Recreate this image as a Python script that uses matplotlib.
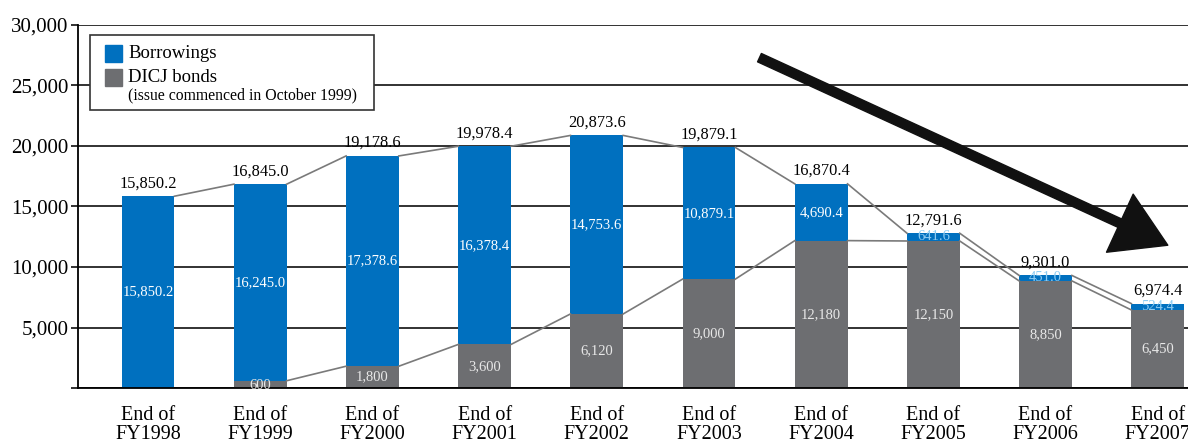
import matplotlib.pyplot as plt
import numpy as np
from matplotlib.patches import Rectangle, FancyArrowPatch

years = ['FY1998', 'FY1999', 'FY2000', 'FY2001', 'FY2002',
         'FY2003', 'FY2004', 'FY2005', 'FY2006', 'FY2007']
borrowings = [15850.2, 16245.0, 17378.6, 16378.4, 14753.6,
              10879.1, 4690.4, 641.6, 451.0, 524.4]
bonds = [0, 600, 1800, 3600, 6120, 9000, 12180, 12150, 8850, 6450]
totals = ['15,850.2', '16,845.0', '19,178.6', '19,978.4', '20,873.6',
          '19,879.1', '16,870.4', '12,791.6', '9,301.0', '6,974.4']
borrow_txt = ['15,850.2', '16,245.0', '17,378.6', '16,378.4', '14,753.6',
              '10,879.1', '4,690.4', '641.6', '451.0', '524.4']
bond_txt = ['', '600', '1,800', '3,600', '6,120', '9,000',
            '12,180', '12,150', '8,850', '6,450']

blue = '#0070BF'
grey = '#6D6E71'
plt.rcParams['font.family'] = ['Liberation Serif', 'DejaVu Serif']

W, H = 1188, 442
fig = plt.figure(figsize=(W / 100, H / 100), dpi=100)
ax = fig.add_axes([78 / W, 54 / H, 1 - 78 / W, (388 - 25) / H])

x = np.arange(len(years))
w = 0.47
bonds = np.array(bonds, dtype=float)
borrowings = np.array(borrowings)
top = bonds + borrowings

ax.set_axisbelow(True)
ax.yaxis.grid(True, color='#222222', linewidth=1.3)
ax.bar(x, bonds, w, color=grey, zorder=2)
ax.bar(x, borrowings, w, bottom=bonds, color=blue, zorder=2)

# connector lines between bar tops
for i in range(len(x) - 1):
    ax.plot([x[i] + w / 2, x[i + 1] - w / 2], [top[i], top[i + 1]],
            color='#7a7a7a', lw=1.2, zorder=3)
    if bonds[i] > 0:
        ax.plot([x[i] + w / 2, x[i + 1] - w / 2], [bonds[i], bonds[i + 1]],
                color='#7a7a7a', lw=1.2, zorder=3)

for i in range(len(x)):
    ax.text(x[i], top[i] + 400, totals[i], ha='center', va='bottom',
            fontsize=11.8, color='black')
    big = borrowings[i] > 1000
    ax.text(x[i], bonds[i] + borrowings[i] / 2 + (0 if big else 20), borrow_txt[i],
            ha='center', va='center', fontsize=10.5,
            color='white' if big else '#8CCBF2', zorder=4)
    if bond_txt[i]:
        yy = bonds[i] / 2 if bonds[i] > 1000 else bonds[i] / 2 - 80
        ax.text(x[i], yy, bond_txt[i], ha='center', va='center',
                fontsize=10.5, color='#E8E8E8', zorder=4)

arrow = FancyArrowPatch((5.45, 27300), (9.09, 11800),
                        arrowstyle='simple,tail_width=0.33,head_width=2.3,head_length=1.9',
                        mutation_scale=20, color='#111111', shrinkA=0, shrinkB=0,
                        zorder=5)
ax.add_patch(arrow)

ax.set_xlim(-0.625, 9.27)
ax.set_ylim(0, 30000)
ax.set_yticks(range(0, 30001, 5000))
ax.set_yticklabels(['', '5,000', '10,000', '15,000', '20,000', '25,000', '30,000'],
                   fontsize=15)
ax.tick_params(axis='y', length=5, width=1.3, color='#222222', pad=2)
ax.set_xticks(x)
ax.set_xticklabels(['End of\n' + y for y in years], fontsize=14.5, linespacing=1.0)
ax.tick_params(axis='x', length=0, pad=13)
for s in ['top', 'right']:
    ax.spines[s].set_visible(False)
ax.spines['left'].set_linewidth(1.3)
ax.spines['bottom'].set_linewidth(1.3)

# legend box drawn by hand
fig.patches.append(Rectangle((90 / W, 1 - 110 / H), 284 / W, 75 / H,
                             transform=fig.transFigure, facecolor='white',
                             edgecolor='#333333', lw=1.2, zorder=6))
fig.patches.append(Rectangle((105 / W, 1 - 62 / H), 17 / W, 17 / H,
                             transform=fig.transFigure, color=blue, zorder=7))
fig.patches.append(Rectangle((105 / W, 1 - 86 / H), 17 / W, 17 / H,
                             transform=fig.transFigure, color=grey, zorder=7))
fig.text(128 / W, 1 - 53 / H, 'Borrowings', fontsize=13.5, va='center', zorder=8)
fig.text(128 / W, 1 - 78 / H, 'DICJ bonds', fontsize=13.5, va='center', zorder=8)
fig.text(128 / W, 1 - 95 / H, '(issue commenced in October 1999)',
         fontsize=11.3, va='center', zorder=8)

fig.savefig('out.png', dpi=100)
